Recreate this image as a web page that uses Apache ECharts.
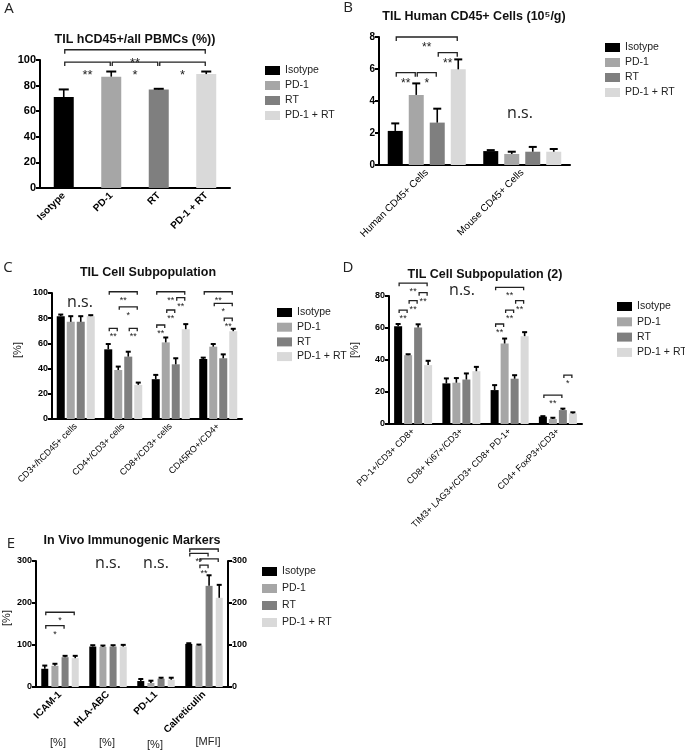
<!DOCTYPE html>
<html><head><meta charset="utf-8">
<script src="https://cdn.jsdelivr.net/npm/echarts@6/dist/echarts.min.js"></script>
<style>html,body{margin:0;padding:0;background:#fff}#c{width:685px;height:751px}</style>
</head><body><div id="c"></div>
<script>
const FF = '"Liberation Sans", Arial, sans-serif';
const groups = ['Isotype', 'PD-1', 'RT', 'PD-1 + RT'];
const colors = ['#000000', '#a6a6a6', '#7f7f7f', '#d9d9d9'];

// ---- Panel A ----
const aCats = ['Isotype', 'PD-1', 'RT', 'PD-1 + RT'];
const aVals = [71, 87, 77, 89];
const aErr = [77, 91, 77.5, 91];
const aAxis = [0, 100, 20];
const aBrackets = [[0,0,3,0,108,'**'],[0,0,1,0,98.4,'**'],[1,0,2,0,98.4,'*'],[2,0,3,0,98.4,'*']];

// ---- Panel B ----
const bCats = ['Human CD45+ Cells', 'Mouse CD45+ Cells'];
const bIso = [2.13, 0.87], bPD1 = [4.38, 0.69], bRT = [2.65, 0.83], bCombo = [5.98, 0.83];
const bIsoErr = [2.6, 0.93], bPD1Err = [5.1, 0.83], bRTErr = [3.52, 1.13], bComboErr = [6.6, 1.0];
const bAxis = [0, 8, 2];
const bBrackets = [[0,0,0,3,8.0,'**'],[0,2,0,3,7.02,'**'],[0,0,0,1,5.77,'**'],[0,1,0,2,5.77,'*']];

// ---- Panel C ----
const cCats = ['CD3+/hCD45+ cells', 'CD4+/CD3+ cells', 'CD8+/CD3+ cells', 'CD45RO+/CD4+'];
const cIso = [81.6, 55.3, 31.6, 47.6], cPD1 = [77.1, 38.9, 60.8, 57.4], cRT = [77.1, 49.5, 43.4, 48.2], cCombo = [81.6, 27.1, 71.3, 69.7];
const cIsoErr = [82.9, 59.5, 35, 48.7], cPD1Err = [81.6, 41.6, 64.7, 59.5], cRTErr = [81.6, 53.4, 48.2, 51.3], cComboErr = [82.4, 28.9, 75.3, 71.6];
const cAxis = [0, 100, 20];
const cBrackets = [
  [1,0,1,3,101,'**'],[1,1,1,3,89,'*'],[1,0,1,1,72,'**'],[1,2,1,3,72,'**'],
  [2,0,2,3,101,'**'],[2,2,2,3,96.3,'**'],[2,1,2,2,86.5,'**'],[2,0,2,1,74.6,'**'],
  [3,0,3,3,101,'**'],[3,1,3,3,91.8,'*'],[3,2,3,3,80,'**']];

// ---- Panel D ----
const dCats = ['PD-1+/CD3+ CD8+', 'CD8+ Ki67+/CD3+', 'TIM3+ LAG3+/CD3+ CD8+ PD-1+', 'CD4+ FoxP3+/CD3+'];
const dIso = [61.1, 25.4, 21.2, 4.6], dPD1 = [43, 25.8, 50.3, 3.1], dRT = [60.3, 27.8, 28.3, 8.7], dCombo = [36.8, 33, 54.9, 6.6];
const dIsoErr = [62.5, 28.5, 24.3, 4.9], dPD1Err = [43.6, 28.7, 53.4, 3.9], dRTErr = [62.3, 31.6, 30.5, 9.6], dComboErr = [39.5, 35.7, 57.4, 7.3];
const dAxis = [0, 80, 20];
const dBrackets = [
  [0,0,0,3,88,'**'],[0,2,0,3,82.1,'**'],[0,1,0,2,77.1,'**'],[0,0,0,1,71.2,'**'],
  [2,0,2,3,85.4,'**'],[2,2,2,3,77.1,'**'],[2,1,2,2,71.2,'**'],[2,0,2,1,62.5,'**'],
  [3,0,3,2,18.1,'**'],[3,2,3,3,30.6,'*']];

// ---- Panel E ----
const eCats = ['ICAM-1', 'HLA-ABC', 'PD-L1', 'Calreticulin'];
const eUnits = ['[%]', '[%]', '[%]', '[MFI]'];
const eIso = [43.4, 96.3, 14.2, 102.6], ePD1 = [50.5, 95.5, 9.5, 98.7], eRT = [71, 96.3, 19.7, 240.8], eCombo = [68.7, 96.3, 17.4, 212.4];
const eIsoErr = [51, 99.5, 19, 104.2], ePD1Err = [55.3, 98.7, 15, 101], eRTErr = [74.2, 99.5, 22.1, 266], eComboErr = [74.2, 100.3, 22.1, 243.2];
const eAxis = [0, 300, 100];
const eBrackets = [[0,0,0,3,178,'*'],[0,0,0,2,146,'*'],[3,0,3,3,328.6,''],[3,0,3,2,318,'**'],[3,1,3,3,305,''],[3,1,3,2,290,'**']];

const chart = echarts.init(document.getElementById('c'), null, {renderer: 'canvas'});

function yAx(grid, ax, fs, pos) {
  return {type: 'value', gridIndex: grid, min: ax[0], max: ax[1], interval: ax[2], position: pos || 'left',
    axisLine: {show: true, lineStyle: {color: '#000', width: 2}},
    axisTick: {show: true, length: 4, lineStyle: {color: '#000', width: 2}},
    axisLabel: {color: '#000', fontSize: fs, fontWeight: 'bold', fontFamily: FF, margin: 4},
    splitLine: {show: false}};
}
function xAx(grid, cats, fs, weight) {
  return {type: 'category', gridIndex: grid, data: cats,
    axisLine: {lineStyle: {color: '#000', width: 2}},
    axisTick: {alignWithLabel: true, length: 4, lineStyle: {color: '#000', width: 2}},
    axisLabel: {rotate: 45, fontSize: fs, fontWeight: weight, color: '#000', fontFamily: FF, margin: 6, interval: 0}};
}
function errSeries(xi, yi, vals, errs, offset, cap) {
  const data = [];
  vals.forEach((v, i) => { if (v !== '-') data.push([i, v, errs[i]]); });
  return {type: 'custom', xAxisIndex: xi, yAxisIndex: yi, silent: true, z: 5, data, encode: {x: 0, y: [1, 2]},
    renderItem: (p, api) => {
      const a = api.coord([api.value(0), api.value(1)]);
      const b = api.coord([api.value(0), api.value(2)]);
      const x = a[0] + offset;
      return {type: 'group', children: [
        {type: 'line', shape: {x1: x, y1: a[1], x2: x, y2: b[1]}, style: {stroke: '#000', lineWidth: 1.6}},
        {type: 'line', shape: {x1: x - cap / 2, y1: b[1], x2: x + cap / 2, y2: b[1]}, style: {stroke: '#000', lineWidth: 2}}
      ]};
    }};
}
function bracketSeries(xi, yi, list, step, fs, dy, tick) {
  return {type: 'custom', xAxisIndex: xi, yAxisIndex: yi, silent: true, z: 10,
    data: list.map(b => [b[0], b[1], b[2], b[3], b[4]]), encode: {x: 0, y: 4},
    renderItem: (p, api) => {
      const b = list[p.dataIndex];
      const c1 = api.coord([b[0], b[4]]), c2 = api.coord([b[2], b[4]]);
      const x1 = c1[0] + (b[1] - 1.5) * step + 1, x2 = c2[0] + (b[3] - 1.5) * step - 1, y = c1[1];
      return {type: 'group', children: [
        {type: 'polyline', shape: {points: [[x1, y + tick], [x1, y], [x2, y], [x2, y + tick]]}, style: {stroke: '#222', lineWidth: 1.3, fill: null}},
        {type: 'text', x: (x1 + x2) / 2, y: y + dy, style: {text: b[5], fill: '#222', font: fs + 'px ' + FF, textAlign: 'center', textVerticalAlign: 'top'}}
      ]};
    }};
}

const series = [];
groups.forEach((g, gi) => {
  const vals = aVals.map((v, i) => i === gi ? v : '-');
  series.push({type: 'bar', name: g, xAxisIndex: 0, yAxisIndex: 0, barWidth: 20, barGap: '-100%', data: vals, itemStyle: {color: colors[gi]}});
  series.push(errSeries(0, 0, vals, aErr, 0, 10));
});
series.push(bracketSeries(0, 0, aBrackets, 0, 13, 7, 4));

function groupPanel(xi, yi, valsList, errList, bw, gapPct, cap) {
  const step = bw * (1 + gapPct / 100);
  groups.forEach((g, gi) => {
    series.push({type: 'bar', name: g, xAxisIndex: xi, yAxisIndex: yi, barWidth: bw, barGap: gapPct + '%', data: valsList[gi], itemStyle: {color: colors[gi]}});
  });
  groups.forEach((g, gi) => {
    series.push(errSeries(xi, yi, valsList[gi], errList[gi], (gi - 1.5) * step, cap));
  });
  return step;
}
const bStep = groupPanel(1, 1, [bIso, bPD1, bRT, bCombo], [bIsoErr, bPD1Err, bRTErr, bComboErr], 15, 40, 8);
series.push(bracketSeries(1, 1, bBrackets, bStep, 12, 5, 4));
const cStep = groupPanel(2, 2, [cIso, cPD1, cRT, cCombo], [cIsoErr, cPD1Err, cRTErr, cComboErr], 8, 25, 5);
series.push(bracketSeries(2, 2, cBrackets, cStep, 9, 4, 3));
const dStep = groupPanel(3, 3, [dIso, dPD1, dRT, dCombo], [dIsoErr, dPD1Err, dRTErr, dComboErr], 8, 25, 5);
series.push(bracketSeries(3, 3, dBrackets, dStep, 9, 4, 3));
const eStep = groupPanel(4, 4, [eIso, ePD1, eRT, eCombo], [eIsoErr, ePD1Err, eRTErr, eComboErr], 7, 45, 5);
series.push(bracketSeries(4, 4, eBrackets, eStep, 9, 4, 3));

function legend(left, top, gap) {
  return {left, top, orient: 'vertical', data: groups, icon: 'rect', itemWidth: 15, itemHeight: 9, itemGap: gap,
    selectedMode: false, textStyle: {fontSize: 10.5, color: '#222', fontFamily: FF}};
}

function txt(x, y, text, font, opts) {
  return Object.assign({type: 'text', x, y, silent: true, style: Object.assign({text, font, fill: '#222', textAlign: 'center', textVerticalAlign: 'middle'}, opts || {})});
}
const TF = 'bold 12.5px ' + FF;
const NS = '16px "Open Sans", sans-serif';
const LF = '15px "Open Sans", sans-serif';
const graphics = [
  txt(9, 9, 'A', LF), txt(348, 8, 'B', LF), txt(8, 268, 'C', LF), txt(348, 268, 'D', LF), txt(11, 544, 'E', LF),
  txt(135, 40, 'TIL hCD45+/all PBMCs (%))', TF, {fill: '#111'}),
  txt(474, 17, 'TIL Human CD45+ Cells (10\u2075/g)', TF, {fill: '#111'}),
  txt(148, 273, 'TIL Cell Subpopulation', TF, {fill: '#111'}),
  txt(485, 275, 'TIL Cell Subpopulation (2)', TF, {fill: '#111'}),
  txt(132, 541, 'In Vivo Immunogenic Markers', TF, {fill: '#111'}),
  txt(520, 113, 'n.s.', NS), txt(80, 302, 'n.s.', NS), txt(462, 290, 'n.s.', NS), txt(108, 563, 'n.s.', NS), txt(156, 563, 'n.s.', NS),
  Object.assign(txt(18, 350, '[%]', '11px ' + FF), {rotation: Math.PI / 2}),
  Object.assign(txt(355, 350, '[%]', '11px ' + FF), {rotation: Math.PI / 2}),
  Object.assign(txt(7, 618, '[%]', '11px ' + FF), {rotation: Math.PI / 2})
];
const unitX = [58, 107, 155, 208], unitY = [743, 743, 745, 742];
eUnits.forEach((u, i) => graphics.push(txt(unitX[i], unitY[i], u, '11px ' + FF)));

chart.setOption({
  animation: false,
  backgroundColor: '#fff',
  grid: [
    {left: 40, top: 60, width: 190, height: 128},
    {left: 379, top: 37, width: 191, height: 128},
    {left: 52, top: 293, width: 190, height: 126},
    {left: 389, top: 296, width: 193, height: 128},
    {left: 36, top: 561, width: 192, height: 126}
  ],
  xAxis: [xAx(0, aCats, 10, 'bold'), xAx(1, bCats, 10, 'normal'), xAx(2, cCats, 9, 'normal'), xAx(3, dCats, 9, 'normal'), xAx(4, eCats, 10, 'bold')],
  yAxis: [yAx(0, aAxis, 11), yAx(1, bAxis, 10), yAx(2, cAxis, 9), yAx(3, dAxis, 9), yAx(4, eAxis, 9), yAx(4, eAxis, 9, 'right')],
  legend: [legend(260, 60, 4), legend(600, 37, 4), legend(272, 302, 3.7), legend(612, 296, 4.3), legend(257, 561, 6)],
  series,
  graphic: graphics
});
</script></body></html>
